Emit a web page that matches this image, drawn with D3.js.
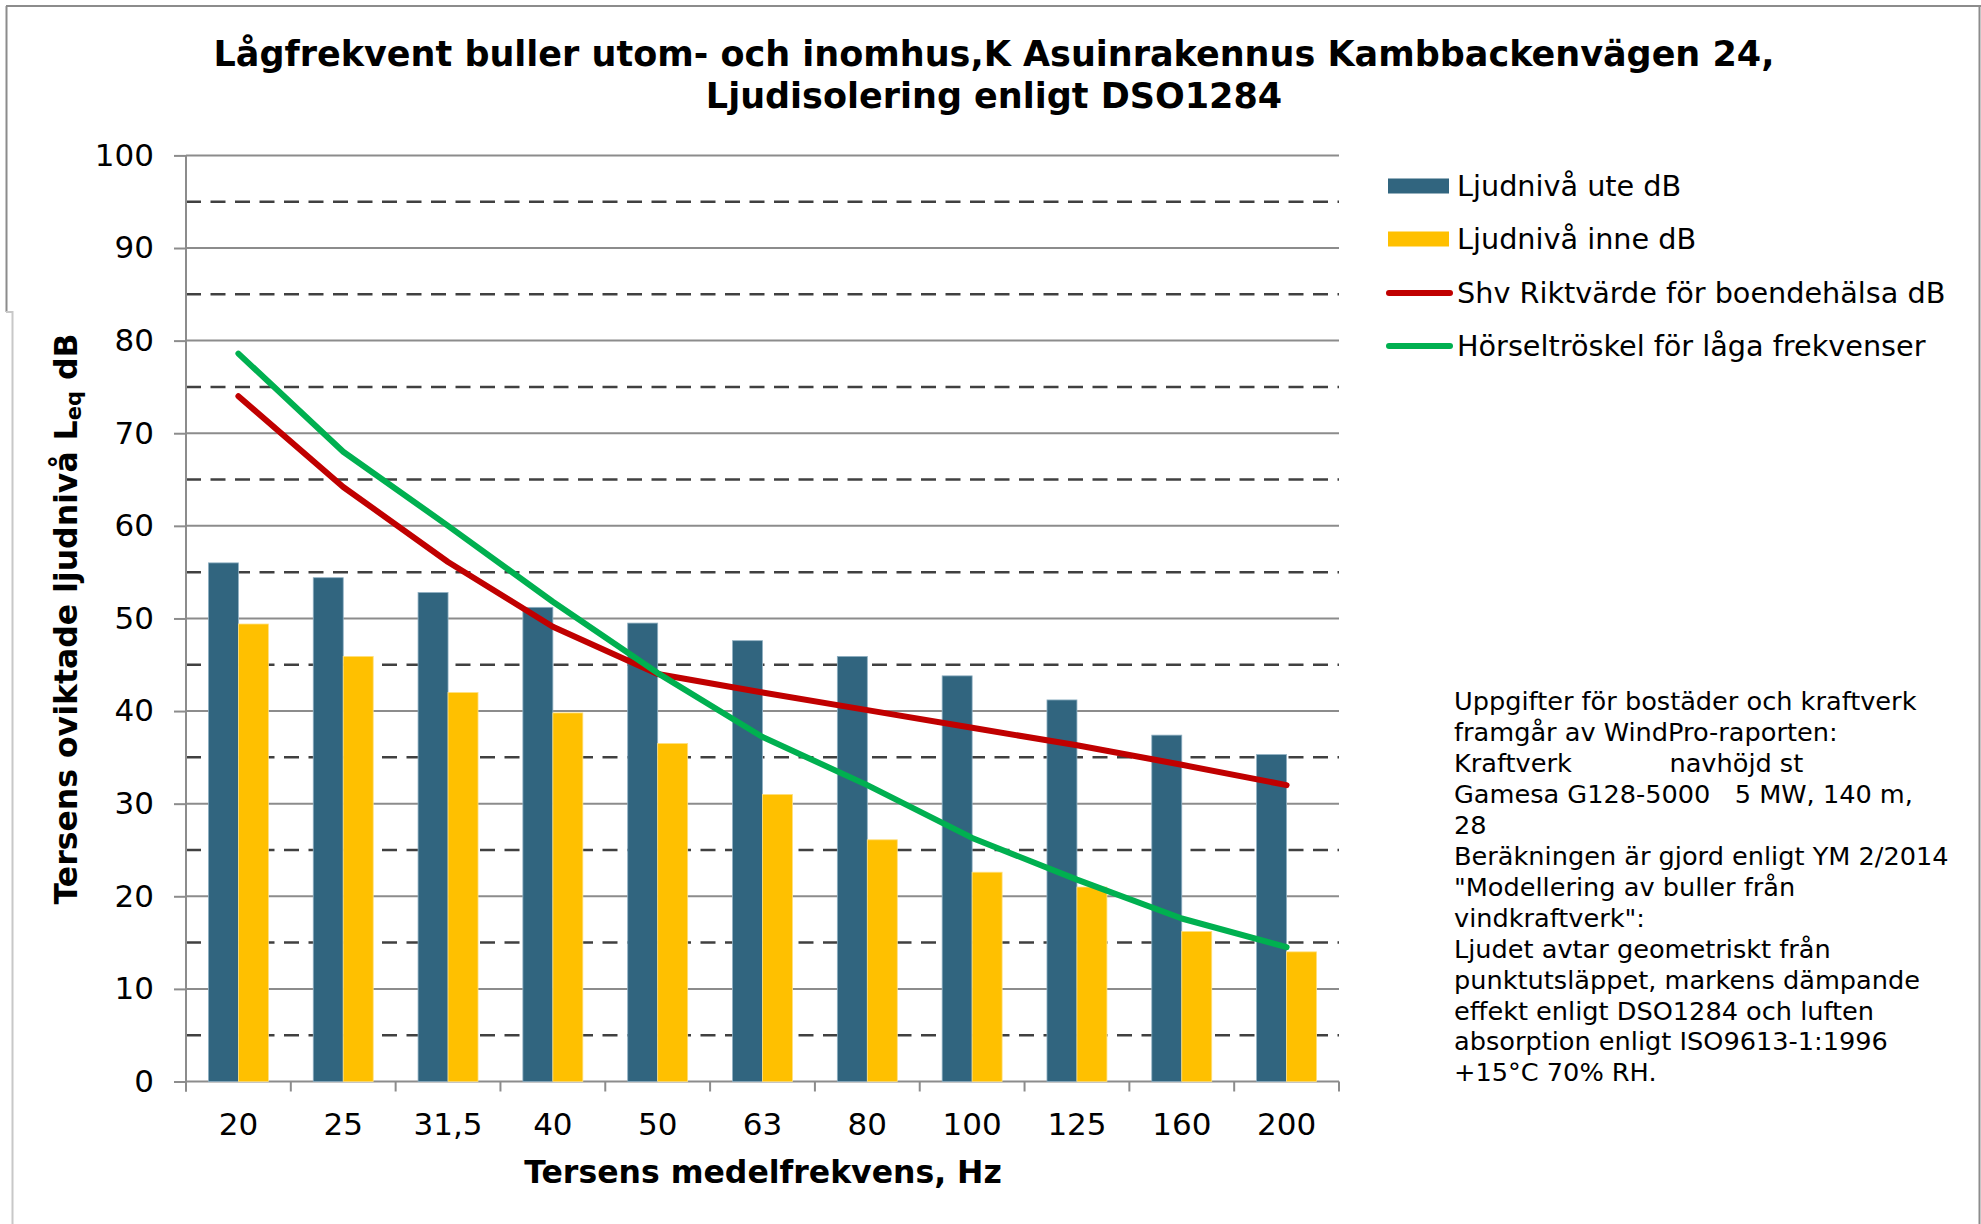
<!DOCTYPE html>
<html>
<head>
<meta charset="utf-8">
<script src="https://cdn.jsdelivr.net/npm/d3@7"></script>
<style>
  html, body { margin: 0; padding: 0; background: #fff; }
  svg { display: block; }
  text { font-family: "DejaVu Sans", Verdana, sans-serif; fill: #000; }
</style>
</head>
<body>
<svg id="chart" width="1981" height="1224"></svg>
<script>
// ---- Data ----
const categories = ["20", "25", "31,5", "40", "50", "63", "80", "100", "125", "160", "200"];
const uteValues  = [56.0, 54.4, 52.8, 51.2, 49.5, 47.6, 45.9, 43.8, 41.2, 37.4, 35.3];
const inneValues = [49.4, 45.9, 42.0, 39.8, 36.5, 31.0, 26.1, 22.6, 21.0, 16.2, 14.0];
const shvValues  = [74.0, 64.2, 56.1, 49.1, 44.0, 42.0, 40.1, 38.2, 36.3, 34.2, 32.0];
const horselValues = [78.6, 68.0, 60.0, 51.8, 44.1, 37.2, 32.0, 26.3, 21.8, 17.6, 14.5];
const seriesNames = ["Ljudnivå ute dB", "Ljudnivå inne dB", "Shv Riktvärde för boendehälsa dB", "Hörseltröskel för låga frekvenser"];
const yTicks = [0, 10, 20, 30, 40, 50, 60, 70, 80, 90, 100];
const yMinorTicks = [5, 15, 25, 35, 45, 55, 65, 75, 85, 95];
const titleLines = ["Lågfrekvent buller utom- och inomhus,K Asuinrakennus Kambbackenvägen 24,", "Ljudisolering enligt DSO1284"];
const xTitle = "Tersens medelfrekvens, Hz";
const noteLines = [
  "Uppgifter för bostäder och kraftverk",
  "framgår av WindPro-raporten:",
  "Kraftverk            navhöjd st",
  "Gamesa G128-5000   5 MW, 140 m,",
  "28",
  "Beräkningen är gjord enligt YM 2/2014",
  "\"Modellering av buller från",
  "vindkraftverk\":",
  "Ljudet avtar geometriskt från",
  "punktutsläppet, markens dämpande",
  "effekt enligt DSO1284 och luften",
  "absorption enligt ISO9613-1:1996",
  "+15°C 70% RH."
];

// ---- Styles ----
const colUte = "#31657f", colInne = "#ffc000", colShv = "#c00000", colHorsel = "#00b050";

const svg = d3.select("#chart");
const plot = { left: 186, right: 1339, top: 155.4, bottom: 1081.5 };

// frame
const frame = svg.append("g");
frame.append("line").attr("x1", 6).attr("y1", 6).attr("x2", 1981).attr("y2", 6).attr("stroke", "#8c8c8c").attr("stroke-width", 2);
frame.append("line").attr("x1", 6.5).attr("y1", 6).attr("x2", 6.5).attr("y2", 312).attr("stroke", "#8c8c8c").attr("stroke-width", 2);
frame.append("line").attr("x1", 6).attr("y1", 312).attr("x2", 13).attr("y2", 312).attr("stroke", "#c8c8c8").attr("stroke-width", 2);
frame.append("line").attr("x1", 12.5).attr("y1", 311).attr("x2", 12.5).attr("y2", 1224).attr("stroke", "#c8c8c8").attr("stroke-width", 2);
frame.append("line").attr("x1", 1979.5).attr("y1", 6).attr("x2", 1979.5).attr("y2", 1224).attr("stroke", "#8c8c8c").attr("stroke-width", 2);

// scales
const y = d3.scaleLinear().domain([0, 100]).range([plot.bottom, plot.top]);
const x0 = d3.scaleBand().domain(categories).range([plot.left, plot.right]).padding(0);
const bw = x0.bandwidth();
const x1 = d3.scaleBand().domain(["ute", "inne"]).range([bw * 0.214, bw * 0.786]).padding(0);

// minor dashed gridlines
svg.append("g").selectAll("line").data(yMinorTicks).join("line")
  .attr("x1", plot.left).attr("x2", plot.right)
  .attr("y1", d => y(d)).attr("y2", d => y(d))
  .attr("stroke", "#404040").attr("stroke-width", 2.5).attr("stroke-dasharray", "15,9.5");

// major gridlines + y axis labels
const yAxis = d3.axisLeft(y).tickValues(yTicks).tickSize(12).tickPadding(20).tickFormat(d3.format("d"));
const gy = svg.append("g").attr("transform", `translate(${plot.left},0)`).call(yAxis);
gy.select(".domain").remove();
gy.selectAll(".tick line").attr("stroke", "#8c8c8c").attr("stroke-width", 2);
gy.selectAll(".tick text").style("font-size", "31px").attr("fill", "#000");
svg.append("g").selectAll("line").data(yTicks).join("line")
  .attr("x1", plot.left).attr("x2", plot.right)
  .attr("y1", d => y(d)).attr("y2", d => y(d))
  .attr("stroke", "#8c8c8c").attr("stroke-width", 2);

// y axis line
svg.append("line").attr("x1", plot.left).attr("x2", plot.left).attr("y1", plot.top).attr("y2", plot.bottom + 10)
  .attr("stroke", "#8c8c8c").attr("stroke-width", 2);

// x axis boundary ticks
svg.append("g").selectAll("line").data(categories.concat(["end"])).join("line")
  .attr("x1", (d, i) => plot.left + i * bw).attr("x2", (d, i) => plot.left + i * bw)
  .attr("y1", plot.bottom).attr("y2", plot.bottom + 10)
  .attr("stroke", "#8c8c8c").attr("stroke-width", 2);

// x labels
const xAxis = d3.axisBottom(x0).tickSize(0).tickPadding(31);
const gx = svg.append("g").attr("transform", `translate(0,${plot.bottom})`).call(xAxis);
gx.select(".domain").remove();
gx.selectAll(".tick text").style("font-size", "31px").attr("fill", "#000");

// bars
const groups = svg.append("g").selectAll("g").data(categories).join("g")
  .attr("transform", d => `translate(${x0(d)},0)`);
groups.append("rect")
  .attr("x", x1("ute")).attr("width", x1.bandwidth())
  .attr("y", (d, i) => y(uteValues[i])).attr("height", (d, i) => y(0) - y(uteValues[i]))
  .attr("fill", colUte).attr("stroke", "#8fb0c2").attr("stroke-width", 0.8);
groups.append("rect")
  .attr("x", x1("inne")).attr("width", x1.bandwidth())
  .attr("y", (d, i) => y(inneValues[i])).attr("height", (d, i) => y(0) - y(inneValues[i]))
  .attr("fill", colInne).attr("stroke", "#ffe080").attr("stroke-width", 0.8);

// lines
const line = d3.line().x((d, i) => x0(categories[i]) + bw / 2).y(d => y(d));
svg.append("path").datum(shvValues).attr("d", line)
  .attr("fill", "none").attr("stroke", colShv).attr("stroke-width", 6).attr("stroke-linecap", "round").attr("stroke-linejoin", "round");
svg.append("path").datum(horselValues).attr("d", line)
  .attr("fill", "none").attr("stroke", colHorsel).attr("stroke-width", 6).attr("stroke-linecap", "round").attr("stroke-linejoin", "round");

// title
svg.append("g").selectAll("text").data(titleLines).join("text")
  .attr("x", 994).attr("y", (d, i) => 54 + i * 42)
  .attr("text-anchor", "middle").attr("dominant-baseline", "central")
  .style("font-size", "35px").style("font-weight", "bold").text(d => d);

// x title
svg.append("text").attr("x", 763).attr("y", 1172)
  .attr("text-anchor", "middle").attr("dominant-baseline", "central")
  .style("font-size", "31.5px").style("font-weight", "bold").text(xTitle);

// y title
const yt = svg.append("text").attr("transform", "translate(66,619) rotate(-90)")
  .attr("text-anchor", "middle").attr("dominant-baseline", "central")
  .style("font-size", "31.5px").style("font-weight", "bold");
yt.append("tspan").text("Tersens oviktade ljudnivå L");
yt.append("tspan").attr("dy", 8).style("font-size", "21px").text("eq");
yt.append("tspan").attr("dy", -8).text(" dB");

// legend
const legend = svg.append("g");
const legRows = [186, 239, 293, 346];
legend.append("rect").attr("x", 1388).attr("y", legRows[0] - 7.5).attr("width", 61).attr("height", 15).attr("fill", colUte);
legend.append("rect").attr("x", 1388).attr("y", legRows[1] - 7.5).attr("width", 61).attr("height", 15).attr("fill", colInne);
legend.append("line").attr("x1", 1389).attr("x2", 1450).attr("y1", legRows[2]).attr("y2", legRows[2])
  .attr("stroke", colShv).attr("stroke-width", 6).attr("stroke-linecap", "round");
legend.append("line").attr("x1", 1389).attr("x2", 1450).attr("y1", legRows[3]).attr("y2", legRows[3])
  .attr("stroke", colHorsel).attr("stroke-width", 6).attr("stroke-linecap", "round");
legend.selectAll("text").data(seriesNames).join("text")
  .attr("x", 1457).attr("y", (d, i) => legRows[i])
  .attr("dominant-baseline", "central").style("font-size", "28.7px").text(d => d);

// note
svg.append("g").selectAll("text").data(noteLines).join("text")
  .attr("x", 1454).attr("y", (d, i) => 701 + i * 30.95)
  .attr("dominant-baseline", "central").style("font-size", "25.6px").style("white-space", "pre")
  .attr("xml:space", "preserve").text(d => d);
</script>
</body>
</html>
